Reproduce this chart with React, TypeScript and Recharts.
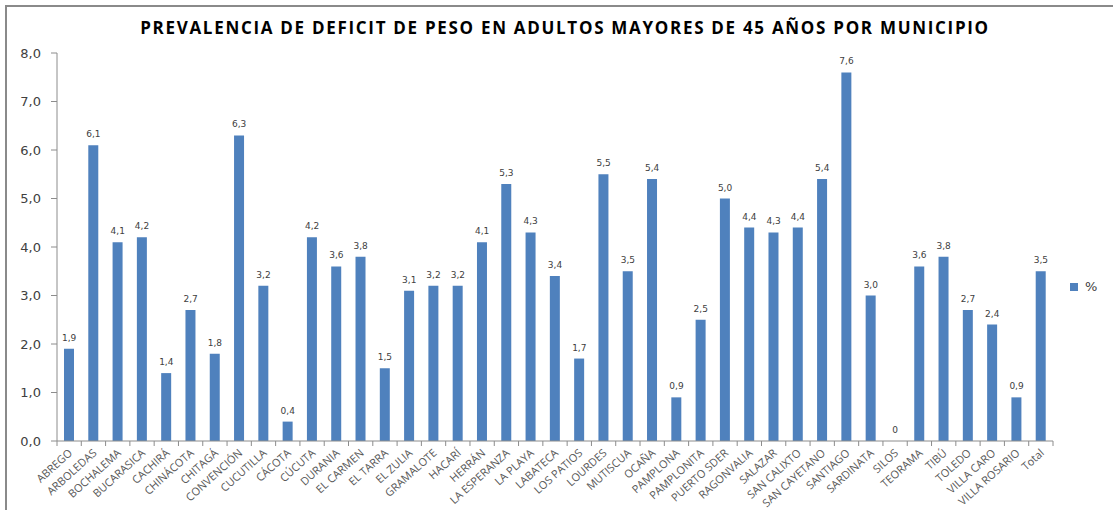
import React from "react";
import { ComposedChart, Bar, Line, XAxis, YAxis, LabelList, Legend } from "recharts";

const categories = ["ABREGO","ARBOLEDAS","BOCHALEMA","BUCARASICA","CACHIRÁ","CHINÁCOTA","CHITAGÁ","CONVENCIÓN","CUCUTILLA","CÁCOTA","CÚCUTA","DURANIA","EL CARMEN","EL TARRA","EL ZULIA","GRAMALOTE","HACARÍ","HERRÁN","LA ESPERANZA","LA PLAYA","LABATECA","LOS PATIOS","LOURDES","MUTISCUA","OCAÑA","PAMPLONA","PAMPLONITA","PUERTO  SDER","RAGONVALIA","SALAZAR","SAN CALIXTO","SAN CAYETANO","SANTIAGO","SARDINATA","SILOS","TEORAMA","TIBÚ","TOLEDO","VILLA CARO","VILLA  ROSARIO","Total"];
const values = [1.9,6.1,4.1,4.2,1.4,2.7,1.8,6.3,3.2,0.4,4.2,3.6,3.8,1.5,3.1,3.2,3.2,4.1,5.3,4.3,3.4,1.7,5.5,3.5,5.4,0.9,2.5,5.0,4.4,4.3,4.4,5.4,7.6,3.0,0,3.6,3.8,2.7,2.4,0.9,3.5];
const yTicks = [0,1,2,3,4,5,6,7,8];
const title = "PREVALENCIA  DE DEFICIT DE PESO EN ADULTOS MAYORES DE 45 AÑOS POR MUNICIPIO";
const seriesName = "%";

const data = categories.map((c, i) => ({ name: c, v: values[i] }));

const fmt = (v: number) => (v === 0 ? "0" : v.toFixed(1).replace(".", ","));
const fmtAxis = (v: number) => v.toFixed(1).replace(".", ",");

const XTick = (props: any) => {
  const { x, y, payload, index, width, visibleTicksCount } = props;
  const half = width / visibleTicksCount / 2;
  const last = index === visibleTicksCount - 1;
  return (
    <g>
      <line x1={x - half} x2={x - half} y1={y - 8} y2={y - 3} stroke="#8c8c8c" />
      {last && <line x1={x + half} x2={x + half} y1={y - 8} y2={y - 3} stroke="#8c8c8c" />}
      <text
        x={x + 4}
        y={y + 5}
        textAnchor="end"
        transform={`rotate(-42 ${x + 4} ${y + 5})`}
        fontSize={11}
        fontFamily="Open Sans, sans-serif"
        fill="#595959"
      >
        {payload.value}
      </text>
    </g>
  );
};

const PointLabel = (props: any) => {
  const { x, y, value } = props;
  return (
    <text
      x={x}
      y={y - 8}
      textAnchor="middle"
      fontSize={9}
      fontFamily="DejaVu Sans, sans-serif"
      fill="#404040"
    >
      {fmt(Number(value))}
    </text>
  );
};

const LegendContent = () => (
  <div style={{ display: "flex", alignItems: "center", fontFamily: "DejaVu Sans, sans-serif", fontSize: 13, color: "#404040" }}>
    <span style={{ display: "inline-block", width: 8, height: 8, background: "#4F81BD", marginRight: 7 }} />
    {seriesName}
  </div>
);

export default function App() {
  return (
    <div style={{ position: "absolute", left: 0, top: 0, width: 1113, height: 510, background: "#fff", overflow: "hidden" }}>
      <div style={{ position: "absolute", left: 5, top: 5, width: 1120, height: 520, border: "2px solid #8a8a8a", boxSizing: "border-box" }} />
      <div style={{ position: "absolute", left: 0, top: 16, width: 1130, textAlign: "center", fontFamily: "Open Sans, sans-serif", fontWeight: 700, fontSize: 17, letterSpacing: 1.7, color: "#000" }}>
        {title}
      </div>
      <div style={{ position: "absolute", left: 0, top: 0 }}>
        <ComposedChart width={1113} height={510} data={data} margin={{ top: 53, right: 60, bottom: 0, left: 0 }}>
          <XAxis
            dataKey="name"
            interval={0}
            tickLine={false}
            axisLine={{ stroke: "#8c8c8c" }}
            tick={<XTick />}
            height={54}
          />
          <YAxis
            width={57}
            domain={[0, 8]}
            ticks={yTicks}
            tickFormatter={fmtAxis}
            axisLine={{ stroke: "#8c8c8c" }}
            tickLine={{ stroke: "#8c8c8c" }}
            tickSize={6}
            tick={{ fontSize: 13, fontFamily: "DejaVu Sans, sans-serif", fill: "#404040", dx: -8 }}
          />
          <Legend
            content={<LegendContent />}
            wrapperStyle={{ position: "absolute", left: 1070, top: 279, width: 40 }}
          />
          <Bar dataKey="v" name={seriesName} fill="#4F81BD" barSize={10} isAnimationActive={false} />
          <Line dataKey="v" stroke="none" dot={false} activeDot={false} legendType="none" isAnimationActive={false}>
            <LabelList dataKey="v" content={<PointLabel />} />
          </Line>
        </ComposedChart>
      </div>
    </div>
  );
}
